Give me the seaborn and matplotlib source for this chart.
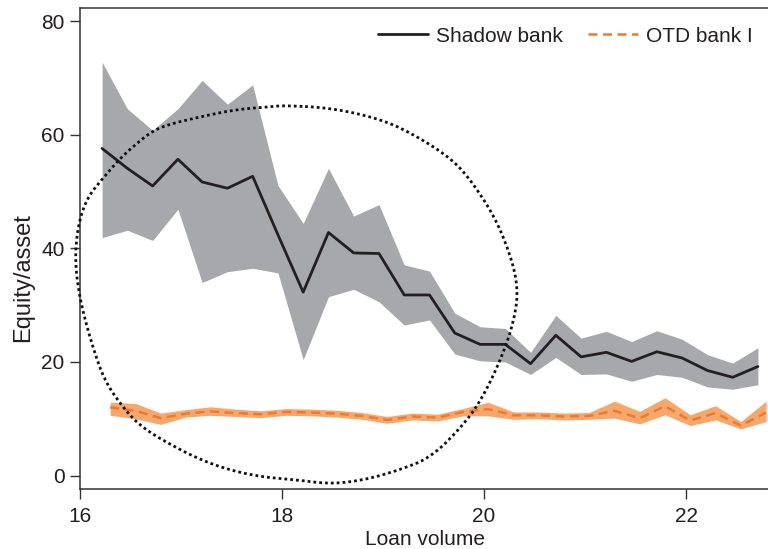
import numpy as np
import pandas as pd
import matplotlib
matplotlib.use("Agg")
import matplotlib.pyplot as plt
import seaborn as sns

# Binned loan volume (log scale) for each bank type
shadow_x = [16.22, 16.47, 16.72, 16.97, 17.21, 17.46, 17.71, 17.96, 18.21,
            18.46, 18.71, 18.96, 19.21, 19.46, 19.71, 19.96, 20.21, 20.46,
            20.71, 20.96, 21.21, 21.46, 21.71, 21.96, 22.21, 22.46, 22.71]
shadow_mean = [57.6, 54.1, 51.0, 55.7, 51.7, 50.6, 52.7, 42.4, 32.3,
               42.8, 39.2, 39.1, 31.8, 31.8, 25.1, 23.1, 23.1, 19.7,
               24.7, 20.9, 21.7, 20.1, 21.8, 20.7, 18.5, 17.3, 19.2]
shadow_low = [41.9, 43.2, 41.4, 46.9, 34.0, 35.9, 36.5, 35.7, 20.4,
              31.5, 32.8, 30.6, 26.5, 27.4, 21.4, 20.2, 20.0, 17.8,
              20.8, 17.8, 17.9, 16.6, 17.8, 17.3, 15.6, 15.2, 16.0]
shadow_high = [72.8, 64.6, 60.8, 64.6, 69.6, 65.4, 68.8, 51.1, 44.4,
               54.1, 45.7, 47.7, 37.1, 36.0, 28.6, 26.2, 25.9, 21.7,
               28.2, 24.2, 25.4, 23.6, 25.5, 24.0, 21.3, 19.8, 22.5]

otd_x = [16.30, 16.55, 16.80, 17.05, 17.29, 17.54, 17.79, 18.04, 18.29,
         18.54, 18.79, 19.04, 19.29, 19.54, 19.79, 20.04, 20.29, 20.54,
         20.79, 21.04, 21.29, 21.54, 21.79, 22.04, 22.29, 22.54, 22.79]
otd_mean = [12.0, 11.4, 10.1, 10.9, 11.3, 11.0, 10.8, 11.2, 11.1,
            10.9, 10.5, 9.8, 10.4, 10.2, 11.2, 11.7, 10.6, 10.6,
            10.4, 10.5, 11.4, 10.1, 12.2, 9.7, 11.0, 8.8, 11.1]
otd_low = [10.6, 10.0, 9.0, 10.3, 10.6, 10.4, 10.2, 10.6, 10.5,
           10.3, 9.9, 9.2, 9.8, 9.6, 10.5, 10.5, 9.9, 10.0,
           9.8, 9.9, 10.1, 9.1, 10.7, 8.8, 9.8, 8.2, 9.5]
otd_high = [12.9, 12.7, 11.0, 11.6, 12.1, 11.7, 11.4, 11.8, 11.7,
            11.5, 11.1, 10.4, 11.0, 10.8, 11.8, 12.9, 11.2, 11.2,
            11.0, 11.1, 13.1, 11.3, 13.7, 10.7, 12.3, 9.5, 13.1]

# Hand-drawn dotted outline highlighting the small-loan region (data units)
ring_x = [18.01, 18.51, 19.01, 19.35, 19.66, 19.85, 20.11, 20.28, 20.34,
          20.28, 20.15, 19.98, 19.81, 19.48, 19.15, 18.81, 18.48, 18.16,
          17.82, 17.49, 17.16, 16.82, 16.62, 16.47, 16.25, 16.12, 16.00,
          15.95, 15.98, 16.07, 16.23, 16.40, 16.57, 16.72, 16.89, 17.22,
          17.56, 17.86]
ring_y = [65.2, 64.7, 62.6, 59.6, 56.0, 52.5, 45.5, 37.9, 32.1,
          26.1, 19.8, 13.6, 9.2, 3.2, 0.9, -0.8, -1.5, -0.8,
          -0.3, 0.9, 3.0, 6.2, 8.5, 11.0, 16.4, 23.0, 30.9,
          37.9, 44.0, 48.9, 52.4, 55.9, 58.6, 60.7, 61.9, 63.3,
          64.5, 64.9]

sns.set_theme(style="ticks")
plt.rcParams["font.family"] = ["Liberation Sans", "DejaVu Sans"]

fig = plt.figure(figsize=(7.68, 5.49), dpi=100)
ax = fig.add_axes([0.104, 0.109, 0.9, 0.876])

shadow = pd.DataFrame({"volume": shadow_x, "ratio": shadow_mean})
otd = pd.DataFrame({"volume": otd_x, "ratio": otd_mean})

ax.fill_between(shadow_x, shadow_low, shadow_high, color="#a7a8ab",
                linewidth=0, zorder=1)
ax.fill_between(otd_x, otd_low, otd_high, color="#f6a86c",
                linewidth=0, zorder=1)

sns.lineplot(data=shadow, x="volume", y="ratio", ax=ax, color="#231f20",
             linewidth=2.0, label="Shadow bank", zorder=3)
sns.lineplot(data=otd, x="volume", y="ratio", ax=ax, color="#ec7b30",
             linewidth=1.8, label="OTD bank I", zorder=3)
ax.lines[-1].set_dashes((3.6, 2.2))


def smooth_closed(xs, ys, rounds=3):
    pts = np.column_stack([xs, ys])
    for _ in range(rounds):
        nxt = np.roll(pts, -1, axis=0)
        q = 0.75 * pts + 0.25 * nxt
        r = 0.25 * pts + 0.75 * nxt
        pts = np.empty((2 * len(q), 2))
        pts[0::2] = q
        pts[1::2] = r
    pts = np.vstack([pts, pts[:1]])
    return pts[:, 0], pts[:, 1]


rx, ry = smooth_closed(ring_x, ring_y)
ax.plot(rx, ry, color="#111111", linewidth=2.0, linestyle=(0, (1, 1.1)),
        clip_on=False, zorder=4)

ax.set_xlim(16, 22.84)
ax.set_ylim(-2.4, 82.3)
ax.set_xticks([16, 18, 20, 22])
ax.set_yticks([0, 20, 40, 60, 80])
ax.set_xlabel("Loan volume", fontsize=15, color="#231f20", labelpad=3.5)
ax.set_ylabel("Equity/asset", fontsize=17, color="#231f20")
ax.yaxis.set_label_coords(-0.066, 0.44)
ax.tick_params(axis="both", direction="out", length=7, width=1.0,
               color="#333333", labelsize=15, labelcolor="#231f20", pad=4)
ax.tick_params(axis="x", pad=5.5)

for side in ["left", "bottom", "top"]:
    ax.spines[side].set_color("#333333")
    ax.spines[side].set_linewidth(1.1)
ax.spines["right"].set_visible(False)

leg = ax.legend(loc="upper right", frameon=False, ncol=2, fontsize=15,
                handlelength=2.4, handletextpad=0.4, columnspacing=1.2,
                borderaxespad=0.3, bbox_to_anchor=(0.995, 0.992))
for t in leg.get_texts():
    t.set_color("#231f20")

fig.savefig("out.png", dpi=100)
